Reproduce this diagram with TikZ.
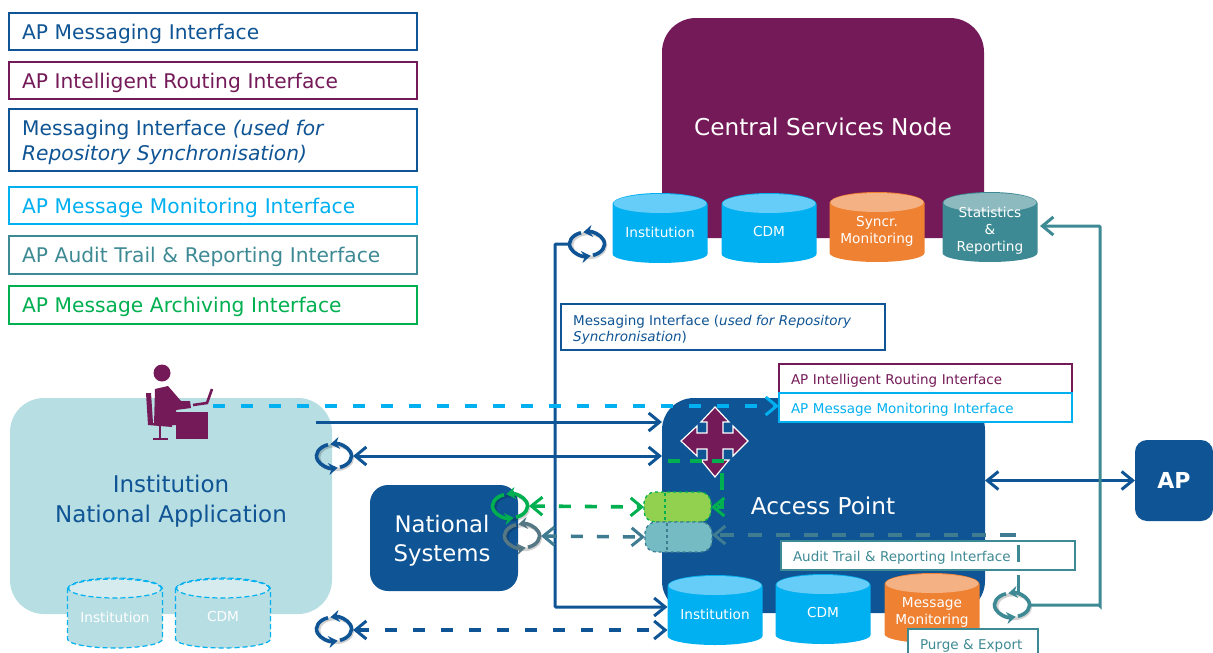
\documentclass[tikz,border=0pt]{standalone}
\usepackage{fontspec}
\setmainfont{DejaVu Sans}
\usetikzlibrary{arrows.meta}
\usetikzlibrary{positioning,shapes.geometric}

\definecolor{apblue}{HTML}{0F5494}
\definecolor{appurple}{HTML}{751A58}
\definecolor{apcyan}{HTML}{00B0F0}
\definecolor{apcyantop}{HTML}{66CCF8}
\definecolor{aporange}{HTML}{EF8133}
\definecolor{aporangetop}{HTML}{F4B183}
\definecolor{apteal}{HTML}{3E8A94}
\definecolor{aptealtop}{HTML}{8CBABF}
\definecolor{apslate}{HTML}{3F7C92}
\definecolor{apgreen}{HTML}{00B050}
\definecolor{aplime}{HTML}{92D050}
\definecolor{apaqua}{HTML}{74BBC4}
\definecolor{apmist}{HTML}{B7DEE3}
\definecolor{apmisttop}{HTML}{D5EBEE}

\tikzset{
  legendbox/.style={draw=#1,text=#1,line width=1.3pt,fill=white,anchor=north west,minimum width=408pt,
    inner sep=0pt,outer sep=0pt,font=\fontsize{20.2}{25}\selectfont,align=left,text width=382pt,
    text height=19pt,text depth=4pt},
  tagbox/.style={draw=#1,text=#1,line width=1.3pt,fill=white,anchor=north west,inner sep=0pt,outer sep=0pt,
    font=\fontsize{13.5}{16}\selectfont,align=left,text height=14pt,text depth=3pt},
  block/.style={fill=#1,text=white,anchor=north west,inner sep=0pt,outer sep=0pt,align=center},
  storebase/.style={rectangle,minimum width=95pt,minimum height=70pt,inner sep=0pt,outer sep=0pt},
  storetext/.style={text=white,align=center,inner sep=0pt,font=\fontsize{13.7}{17}\selectfont},
  pill/.style n args={2}{draw=#1,fill=#2,dashed,line width=1.3pt,rounded corners=11pt,minimum width=67pt,
    minimum height=30pt,inner sep=0pt,outer sep=0pt},
  link/.style={line width=3pt,draw=#1,line cap=butt},
  flow/.style={link=#1,-{Straight Barb[length=11pt,width=18pt,line width=3pt]}},
  twoway/.style={link=#1,{Straight Barb[length=11pt,width=18pt,line width=3pt]}-{Straight Barb[length=11pt,width=18pt,line width=3pt]}},
  gaps/.style={dash pattern=on 12pt off 16pt,line width=3.6pt},
  syncnode/.style={ellipse,minimum width=38pt,minimum height=27pt,inner sep=0pt,outer sep=0pt},
  figure/.style={fill=appurple,draw=none}
}

% name, position, colour
\newcommand{\syncloop}[3]{
  \node[syncnode] (#1) at (#2) {};
  \draw[black,opacity=.18,line width=3.5pt] ([shift={(1.5pt,-1.5pt)}]#1.center) ellipse[x radius=17pt,y radius=12pt];
  \foreach \a in {-70,110}
    \draw[#3,line width=3.6pt,-{Stealth[length=9pt,width=12pt]}] ([shift={(\a:17.5pt and 12pt)}]#1.center) arc[x radius=17.5pt,y radius=12pt,start angle=\a,end angle=\a+172];
}

% options, name, position, body colour, top colour, text
\newcommand{\dbstore}[6][]{
  \node[storebase] (#2) at (#3) {};
  \path[fill=#4,#1] ([yshift=-11pt]#2.north west) arc[x radius=47.5pt,y radius=11pt,start angle=180,end angle=0] -- ([yshift=9pt]#2.south east) arc[x radius=47.5pt,y radius=9pt,start angle=0,end angle=-180] -- cycle;
  \path[fill=#5,#1] ([yshift=-10.5pt]#2.north) ellipse[x radius=46.5pt,y radius=9.5pt];
  \node[storetext] (#2label) at ([yshift=-4pt]#2.center) {#6};
}

\begin{document}
\begin{tikzpicture}[x=1pt,y=-1pt]
\useasboundingbox (0,0) rectangle (1213,653);

% legend
\node[legendbox=apblue,minimum height=37pt] (lgmsg) at (9,13) {AP Messaging Interface};
\node[legendbox=appurple,minimum height=37pt] (lgroute) at (9,62) {AP Intelligent Routing Interface};
\node[legendbox=apblue,minimum height=62pt] (lgsync) at (9,109) {};
\node[text=apblue,anchor=west,inner sep=0pt,align=left,font=\fontsize{20.2}{25}\selectfont] (lgsynclabel) at (22,142.5) {Messaging Interface \textit{(used for}\\\textit{Repository Synchronisation)}};
\node[legendbox=apcyan,minimum height=37pt] (lgmon) at (9,187) {AP Message Monitoring Interface};
\node[legendbox=apteal,minimum height=38pt] (lgaudit) at (9,236) {AP Audit Trail \& Reporting Interface};
\node[legendbox=apgreen,minimum height=38pt] (lgarch) at (9,286) {AP Message Archiving Interface};

% main blocks
\node[block=appurple,minimum width=322pt,minimum height=220pt,rounded corners=34pt] (csn) at (662,18) {};
\node[text=white,font=\fontsize{23.2}{27}\selectfont] (csnlabel) at (823,127) {Central Services Node};
\node[block=apmist,minimum width=322pt,minimum height=216pt,rounded corners=34pt] (natapp) at (10,398) {};
\node[text=apblue,align=center,font=\fontsize{23}{29.5}\selectfont] (natapplabel) at (171,501) {Institution\\National Application};
\node[block=apblue,minimum width=148pt,minimum height=106pt,rounded corners=18pt] (natsys) at (370,485) {};
\node[text=white,align=center,font=\fontsize{22.8}{29}\selectfont] (natsyslabel) at (442,541) {National\\Systems};
\node[block=apblue,minimum width=323pt,minimum height=215pt,rounded corners=32pt] (accp) at (662,398) {};
\node[text=white,font=\fontsize{23.2}{27}\selectfont] (accplabel) at (823,506) {Access Point};
\node[block=apblue,minimum width=78pt,minimum height=81pt,rounded corners=12pt,font=\bfseries\fontsize{22}{26}\selectfont] (apnode) at (1135,440) {AP};

% stores
\dbstore{cinst}{660,228}{apcyan}{apcyantop}{Institution}
\dbstore{ccdm}{769,228}{apcyan}{apcyantop}{CDM}
\dbstore{csync}{877,227}{aporange}{aporangetop}{Syncr.\\Monitoring}
\dbstore{cstat}{990,227}{apteal}{aptealtop}{Statistics\\\&\\Reporting}
\dbstore{ainst}{715,610}{apcyan}{apcyantop}{Institution}
\dbstore{acdm}{823,609}{apcyan}{apcyantop}{CDM}
\dbstore{amon}{932,608}{aporange}{aporangetop}{Message\\Monitoring}
\dbstore[draw=apcyan,dash pattern=on 5pt off 3pt,line width=1.2pt]{ginst}{115,613}{apmist}{apmisttop}{Institution}
\dbstore[draw=apcyan,dash pattern=on 5pt off 3pt,line width=1.2pt]{gcdm}{223,613}{apmist}{apmisttop}{CDM}

% interface tags
\node[tagbox=apblue,minimum width=324pt,minimum height=46pt,text width=300pt] (tagsync) at (561,304) {};
\node[text=apblue,anchor=west,inner sep=0pt,align=left,font=\fontsize{13.5}{16}\selectfont] (tagsynclabel) at (573,330) {Messaging Interface (\textit{used for Repository}\\\textit{Synchronisation})};

% pills
\node[pill={apgreen}{aplime}] (greenpill) at (677.5,507) {};
\node[pill={apslate}{apaqua}] (tealpill) at (678.5,537) {};
\draw[apgreen,dashed,line width=1.3pt] (665,493) -- (665,521);
\draw[apslate,dashed,line width=1.3pt] (667,523) -- (667,551);

% sync icons
\syncloop{synccsn}{587,244}{apblue}
\syncloop{syncapp}{334,456}{apblue}
\syncloop{syncdb}{334,629}{apblue}
\syncloop{syncarch}{510,506}{apgreen}
\syncloop{syncaudit}{522,536}{apslate!70!black!80}
\syncloop{syncstat}{1012,605}{apteal}

% connectors
\coordinate (trunkend) at (555,607);
\coordinate (usertap) at (316,422);
\coordinate (usertip) at (662,422);
\coordinate (dbleft) at (355,630);
\coordinate (audittop) at (1014,535);
\coordinate (statup) at (1100,606);
\coordinate (statin) at (1040,226);
\coordinate (greenstart) at (668,461);
\coordinate (greenbend) at (722,461);
\draw[flow=apblue,rounded corners=1pt] (synccsn.west) -| (trunkend) -- (ainst.west |- trunkend);
\draw[flow=apblue] (usertap) -- (usertip);
\draw[twoway=apblue] (syncapp.east) -- (accp.west |- syncapp.east);
\draw[twoway=apblue,gaps] (syncdb.east |- dbleft) -- (ainst.west |- dbleft);
\draw[twoway=apblue] (accp.east |- apnode.west) -- (apnode.west);
\draw[flow=apteal,rounded corners=1pt] (syncstat.east) -| (statup) |- (statin);
\draw[flow=apgreen,gaps,dash pattern=on 12pt off 10pt] (greenbend |- 0,478) -- (greenbend |- greenpill.east) -- (greenpill.east);
\draw[twoway=apgreen,gaps,dash pattern=on 12pt off 14pt] (syncarch.east) -- (greenpill.west);
\draw[twoway=apslate,gaps,dash pattern=on 12pt off 14pt] (syncaudit.east) -- (tealpill.west);
\draw[flow=apslate,gaps,dash pattern=on 14pt off 14pt] (audittop) -- (tealpill.east |- audittop);

% routing cross
\draw[fill=appurple,draw=white,line width=1.2pt] (715,407) -- (729,422) -- (723,422) -- (723,433) -- (733,433) -- (733,426) -- (748,441) -- (733,456) -- (733,449) -- (723,449) -- (723,460) -- (729,460) -- (715,477) -- (701,460) -- (707,460) -- (707,449) -- (697,449) -- (697,456) -- (681,441) -- (697,426) -- (697,433) -- (707,433) -- (707,422) -- (701,422) -- cycle;
\draw[apgreen,line width=3.6pt,dash pattern=on 12pt off 10pt] (greenstart) -- (greenbend) -- (722,478);

% tags over the blocks
\node[tagbox=appurple,minimum width=293pt,minimum height=29pt,text width=269pt] (tagroute) at (779,364) {AP Intelligent Routing Interface};
\node[tagbox=apcyan,minimum width=293pt,minimum height=29pt,text width=269pt] (tagmon) at (779,393) {AP Message Monitoring Interface};
\node[tagbox=apteal,minimum width=294pt,minimum height=29pt,text width=270pt] (tagaudit) at (781,541) {Audit Trail \& Reporting Interface};
\node[tagbox=apteal,minimum width=130pt,minimum height=30pt,text width=106pt] (tagpurge) at (908,629) {Purge \& Export};

% user link runs over the tags
\draw[flow=apcyan,gaps] (213,406) -- (tagmon.west |- 0,406);

% audit feed behind the tag
\coordinate (auditdrop) at (1018,545);
\coordinate (auditdrop2) at (1018,575);
\draw[apteal,line width=3pt] (auditdrop) -- +(0,17);
\draw[apteal,line width=3pt] (auditdrop2) -- (syncstat.north -| auditdrop2);
\draw[apslate,line width=3.6pt] (1002,535) -- +(14,0);

% user at the desk
\fill[figure] (162,373) circle[radius=8.5];
\fill[figure] (155,389) -- (168,386) -- (181,401) -- (190,401) -- (191,408) -- (176,410) -- (176,425) -- (154,425) -- cycle;
\fill[figure] (146,393) -- (151,393) -- (153,423) -- (172,424) -- (172,427) -- (148,425) -- cycle;
\fill[figure] (176,412) rectangle (208,439);
\draw[appurple,line width=2pt] (160,426) -- (160,438) (153,438.5) -- (168,438.5);
\draw[appurple,line width=2.6pt] (193,405) -- (207,403) -- (212,389);
\end{tikzpicture}
\end{document}
